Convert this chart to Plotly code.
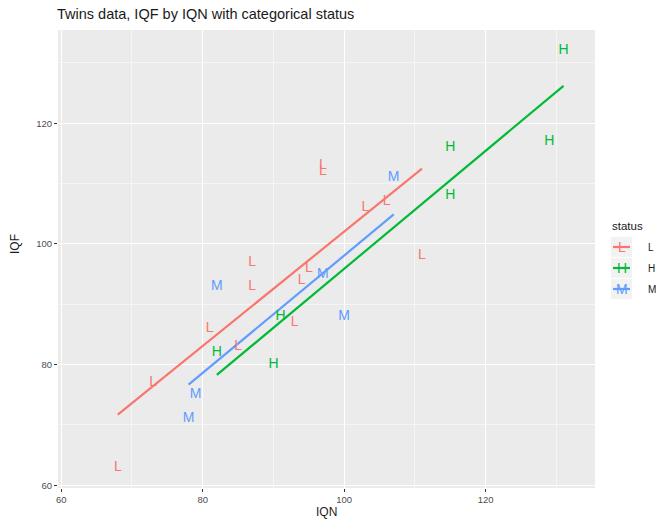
import numpy as np
import plotly.graph_objects as go

# Burt twins data
IQN = [82, 90, 91, 115, 115, 129, 131, 78, 79, 82, 97, 100, 107, 68, 73, 81, 85, 87, 87, 93, 94, 95, 97, 97, 103, 106, 111]
IQF = [82, 80, 88, 108, 116, 117, 132, 71, 75, 93, 95, 88, 111, 63, 77, 86, 83, 93, 97, 87, 94, 96, 112, 113, 106, 107, 98]
status = ["H"] * 7 + ["M"] * 6 + ["L"] * 14
levels = ["L", "H", "M"]
colors = {"L": "#F8766D", "H": "#00BA38", "M": "#619CFF"}

W, H = 664, 523
ml, mr, mt, mb = 58, 69, 30, 35
pw = W - ml - mr
ph = H - mt - mb

fig = go.Figure()
for lv in levels:
    xs = np.array([x for x, s in zip(IQN, status) if s == lv], dtype=float)
    ys = np.array([y for y, s in zip(IQF, status) if s == lv], dtype=float)
    b, a = np.polyfit(xs, ys, 1)
    lx = np.array([xs.min(), xs.max()])
    fig.add_trace(go.Scatter(x=lx, y=a + b * lx, mode="lines",
                             line=dict(color=colors[lv], width=2.2),
                             showlegend=False, hoverinfo="skip"))
for lv in levels:
    xs = [x for x, s in zip(IQN, status) if s == lv]
    ys = [y for y, s in zip(IQF, status) if s == lv]
    fig.add_trace(go.Scatter(x=xs, y=ys, mode="text", text=[lv] * len(xs),
                             textposition="middle center",
                             textfont=dict(color=colors[lv], size=14, family="Liberation Sans"),
                             showlegend=False))

def px(X):
    return (X - ml) / pw

def py(Y):
    return (H - mb - Y) / ph

annotations = [dict(text="status", x=px(610), y=py(226), xref="paper", yref="paper",
                    xanchor="left", yanchor="middle", showarrow=False,
                    font=dict(size=11.5, color="#1a1a1a", family="Liberation Sans"))]
shapes = []
for i, lv in enumerate(levels):
    cy = 247 + 21 * i
    shapes.append(dict(type="rect", xref="paper", yref="paper",
                       x0=px(611), x1=px(632), y0=py(cy - 10), y1=py(cy + 10),
                       fillcolor="#F2F2F2", line=dict(width=0), layer="above"))
    shapes.append(dict(type="line", xref="paper", yref="paper",
                       x0=px(613), x1=px(630), y0=py(cy), y1=py(cy),
                       line=dict(color=colors[lv], width=2.2), layer="above"))
    annotations.append(dict(text=lv, x=px(621.5), y=py(cy), xref="paper", yref="paper",
                            xanchor="center", yanchor="middle", showarrow=False,
                            font=dict(size=14, color=colors[lv], family="Liberation Sans")))
    annotations.append(dict(text=lv, x=px(646), y=py(cy), xref="paper", yref="paper",
                            xanchor="left", yanchor="middle", showarrow=False,
                            font=dict(size=10, color="#1a1a1a", family="Liberation Sans")))

# axis titles as annotations for precise placement
annotations.append(dict(text="IQN", x=px(326), y=py(512), xref="paper", yref="paper",
                        xanchor="center", yanchor="middle", showarrow=False,
                        font=dict(size=12, color="#1a1a1a", family="Liberation Sans")))
annotations.append(dict(text="IQF", x=px(15), y=py(244), xref="paper", yref="paper",
                        xanchor="center", yanchor="middle", showarrow=False, textangle=-90,
                        font=dict(size=12, color="#1a1a1a", family="Liberation Sans")))

fig.update_layout(
    width=W, height=H,
    margin=dict(l=ml, r=mr, t=mt, b=mb),
    paper_bgcolor="white", plot_bgcolor="#EBEBEB",
    title=dict(text="Twins data, IQF by IQN with categorical status", x=57 / W, xanchor="left",
               y=1 - 14 / H, yanchor="middle",
               font=dict(size=14.5, color="#1a1a1a", family="Liberation Sans")),
    showlegend=False,
    annotations=annotations, shapes=shapes,
    font=dict(family="Liberation Sans"),
)
axis_common = dict(showline=False, zeroline=False, gridcolor="white", gridwidth=1.2,
                   ticks="outside", ticklen=3, tickcolor="#333333", tickwidth=1,
                   tickfont=dict(size=9.5, color="#4D4D4D"), automargin=False,
                   minor=dict(showgrid=True, gridcolor="#F5F5F5", gridwidth=0.6, dtick=10, tick0=70))
fig.update_xaxes(range=[59.55, 135.45], tickvals=[60, 80, 100, 120], **axis_common)
fig.update_yaxes(range=[59.55, 135.45], tickvals=[60, 80, 100, 120], **axis_common)

fig.write_html("out.html")
